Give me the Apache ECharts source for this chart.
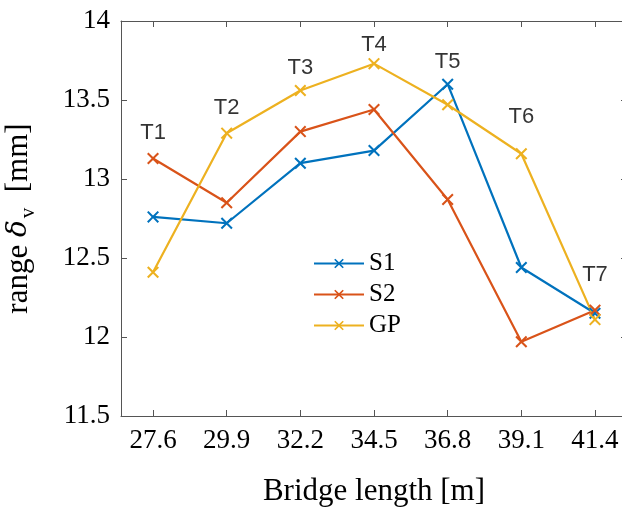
<!DOCTYPE html>
<html>
<head>
<meta charset="utf-8">
<script src="https://cdn.jsdelivr.net/npm/echarts@6/dist/echarts.min.js"></script>
<style>
  html, body { margin: 0; padding: 0; background: #fff; }
  #main { width: 622px; height: 507px; }
</style>
</head>
<body>
<div id="main"></div>
<script>
// bridge lengths [m]
var lengths = [27.6, 29.9, 32.2, 34.5, 36.8, 39.1, 41.4];
// range of vertical displacement [mm]
var s1 = [12.76, 12.72, 13.10, 13.18, 13.60, 12.44, 12.15];
var s2 = [13.13, 12.85, 13.30, 13.44, 12.87, 11.97, 12.17];
var gp = [12.41, 13.29, 13.56, 13.73, 13.47, 13.16, 12.11];
// text annotations (like matlab text(x,y,...))
var tagNames = ['T1', 'T2', 'T3', 'T4', 'T5', 'T6', 'T7'];
var tagY = [13.29, 13.45, 13.70, 13.85, 13.74, 13.39, 12.39];
var yTicks = [11.5, 12, 12.5, 13, 13.5, 14];

var colors = ['#0072BD', '#D95319', '#EDB120'];
// x marker as a filled polygon
var xMark = 'path://M0,12 L12,0 L50,38 L88,0 L100,12 L62,50 L100,88 L88,100 L50,62 L12,100 L0,88 L38,50 Z';

function pairs(ys) {
  var out = [];
  for (var i = 0; i < lengths.length; i++) out.push([lengths[i], ys[i]]);
  return out;
}

function lineSeries(name, ys, c) {
  return {
    name: name,
    type: 'line',
    data: pairs(ys),
    symbol: xMark,
    symbolSize: 12,
    showAllSymbol: true,
    lineStyle: { color: c, width: 2.2 },
    itemStyle: { color: c, borderWidth: 0 },
    emphasis: { disabled: true },
    z: 3
  };
}

var tags = [];
for (var i = 0; i < tagNames.length; i++) {
  tags.push({ value: [lengths[i], tagY[i]], name: tagNames[i] });
}

var axisCol = '#555';
var chart = echarts.init(document.getElementById('main'));
var option = {
  animation: false,
  color: colors,
  grid: { left: 121, top: 21, width: 506, height: 395, outerBoundsMode: 'none', containLabel: false },
  legend: {
    left: 308,
    top: 246,
    orient: 'vertical',
    itemWidth: 50,
    itemHeight: 12,
    itemGap: 6,
    textStyle: { fontFamily: 'Liberation Serif', fontSize: 25, color: '#000' },
    data: ['S1', 'S2', 'GP']
  },
  xAxis: [{
    type: 'value',
    min: 26.6,
    max: 42.4,
    name: 'Bridge length [m]',
    nameLocation: 'middle',
    nameGap: 60,
    nameTextStyle: { fontFamily: 'Liberation Serif', fontSize: 31, color: '#000' },
    splitLine: { show: false },
    axisLine: { show: true, onZero: false, lineStyle: { color: axisCol, width: 1 } },
    axisTick: { show: true, inside: true, length: 6, customValues: lengths, lineStyle: { color: axisCol } },
    axisLabel: {
      customValues: lengths,
      margin: 11,
      fontFamily: 'Liberation Serif',
      fontSize: 27,
      color: '#000',
      formatter: function (v) { return v.toFixed(1); }
    }
  }, {
    type: 'value',
    position: 'top',
    min: 26.6,
    max: 42.4,
    splitLine: { show: false },
    axisLine: { show: true, onZero: false, lineStyle: { color: axisCol, width: 1 } },
    axisTick: { show: true, inside: true, length: 6, customValues: lengths, lineStyle: { color: axisCol } },
    axisLabel: { show: false }
  }],
  yAxis: [{
    type: 'value',
    min: 11.5,
    max: 14,
    interval: 0.5,
    name: 'range {d|δ}{s|v}  [mm]',
    nameLocation: 'middle',
    nameRotate: 90,
    nameGap: 82,
    nameTextStyle: {
      fontFamily: 'Liberation Serif',
      fontSize: 31,
      color: '#000',
      rich: {
        d: { fontFamily: 'DejaVu Serif', fontStyle: 'italic', fontSize: 28, color: '#000' },
        s: { fontFamily: 'Liberation Serif', fontSize: 21, color: '#000', verticalAlign: 'bottom', padding: [20, 0, 0, 2] }
      }
    },
    splitLine: { show: false },
    axisLine: { show: true, onZero: false, lineStyle: { color: axisCol, width: 1 } },
    axisTick: { show: true, inside: true, length: 6, lineStyle: { color: axisCol } },
    axisLabel: {
      margin: 11,
      fontFamily: 'Liberation Serif',
      fontSize: 27,
      color: '#000',
      customValues: yTicks,
      formatter: function (v) { return String(v); }
    }
  }, {
    type: 'value',
    position: 'right',
    min: 11.5,
    max: 14,
    interval: 0.5,
    splitLine: { show: false },
    axisLine: { show: true, onZero: false, lineStyle: { color: axisCol, width: 1 } },
    axisTick: { show: true, inside: true, length: 6, lineStyle: { color: axisCol } },
    axisLabel: { show: false }
  }],
  series: [
    lineSeries('S1', s1, colors[0]),
    lineSeries('S2', s2, colors[1]),
    lineSeries('GP', gp, colors[2]),
    {
      name: 'tags',
      type: 'scatter',
      data: tags,
      symbolSize: 1,
      itemStyle: { color: 'rgba(0,0,0,0)' },
      silent: true,
      label: {
        show: true,
        position: 'inside',
        formatter: function (p) { return p.name; },
        fontFamily: 'Liberation Sans',
        fontSize: 22,
        color: '#000'
      },
      z: 4
    }
  ]
};
chart.setOption(option);
</script>
</body>
</html>
